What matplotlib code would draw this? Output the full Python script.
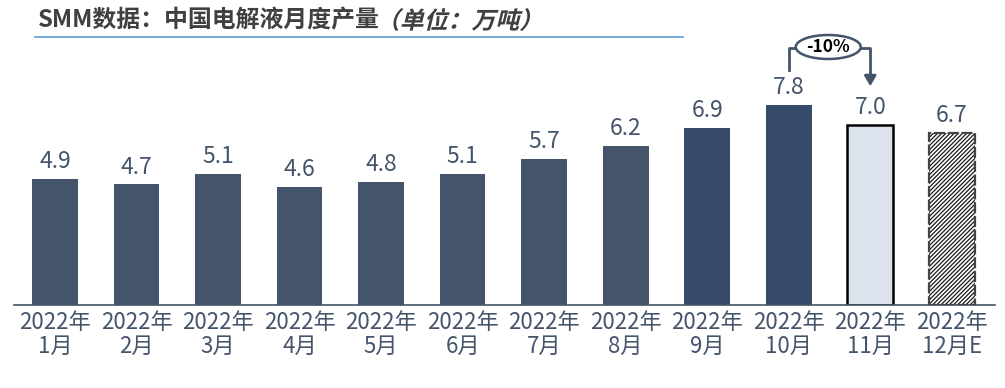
import matplotlib
matplotlib.use("Agg")
import matplotlib.pyplot as plt
from matplotlib.patches import Ellipse, PathPatch
from matplotlib.textpath import TextPath
from matplotlib.font_manager import FontProperties
from matplotlib.transforms import Affine2D

plt.rcParams['font.family'] = ['Noto Sans CJK SC', 'DejaVu Sans']
plt.rcParams['hatch.linewidth'] = 0.9

categories = ["2022年\n1月", "2022年\n2月", "2022年\n3月", "2022年\n4月", "2022年\n5月",
              "2022年\n6月", "2022年\n7月", "2022年\n8月", "2022年\n9月", "2022年\n10月",
              "2022年\n11月", "2022年\n12月E"]
values = [4.9, 4.7, 5.1, 4.6, 4.8, 5.1, 5.7, 6.2, 6.9, 7.8, 7.0, 6.7]
labels = ["4.9", "4.7", "5.1", "4.6", "4.8", "5.1", "5.7", "6.2", "6.9", "7.8", "7.0", "6.7"]
change_label = "-10%"
title_main = "SMM数据：中国电解液月度产量"
title_unit = "（单位：万吨）"

W, H = 1005, 388
fig = plt.figure(figsize=(W / 100, H / 100), dpi=100)
ax = fig.add_axes([14 / W, 1 - 305 / H, 981 / W, 265 / H])

text_color = "#44546A"
base_colors = ["#44546A"] * 8 + ["#364A6B", "#364A6B"]
x = list(range(len(values)))
bw = 0.56

for i, v in enumerate(values):
    if i < 10:
        ax.bar(i, v, width=bw, color=base_colors[i], edgecolor="none", zorder=2)
    elif i == 10:
        ax.bar(i, v, width=bw, color="#DCE3ED", edgecolor="black", linewidth=1.8, zorder=2)
    else:
        ax.bar(i, v, width=bw, color="white", edgecolor="#1a1a1a", hatch="////////",
               linewidth=0, zorder=2)
        ax.bar(i, v, width=bw, color="none", edgecolor="#444444", linewidth=1.6,
               linestyle=(0, (5, 1.2)), zorder=3)
    ax.text(i, v + 0.22, labels[i], ha="center", va="bottom", fontsize=16.5,
            color=text_color)

ax.set_xlim(-0.503, 11.53)
ax.set_ylim(0, 265 / 25.7)
ax.set_xticks(x)
ax.set_xticklabels(categories, fontsize=16, color=text_color, linespacing=1.05)
ax.tick_params(axis="x", length=0, pad=4)
ax.set_yticks([])
for s in ["top", "right", "left"]:
    ax.spines[s].set_visible(False)
ax.spines["bottom"].set_color(text_color)
ax.spines["bottom"].set_linewidth(1.2)

# annotation bracket (-10%)
def py(ypix):
    return (305 - ypix) / 25.7
def px(xpix):
    return (xpix - 55) / 81.5

lc = "#44546A"
ax.plot([9, 9, px(796)], [py(70), py(48), py(48)], color=lc, lw=2, clip_on=False, zorder=4)
ax.plot([px(860), 10, 10], [py(48), py(48), py(80)], color=lc, lw=2, clip_on=False, zorder=4)
ax.annotate("", xy=(10, py(89)), xytext=(10, py(76)),
            arrowprops=dict(arrowstyle="-|>,head_length=0.6,head_width=0.35", color=lc, lw=2),
            annotation_clip=False)
ell = Ellipse((px(828), py(47)), width=65 / 81.5, height=24 / 25.7, facecolor="white",
              edgecolor=lc, lw=1.8, clip_on=False, zorder=5)
ax.add_patch(ell)
ax.text(px(828), py(47.5), change_label, ha="center", va="center", fontsize=12.5,
        fontweight="bold", color="black", zorder=6)

# title
tsize = 17.2
t1 = fig.text(38 / W, 1 - 20 / H, title_main, ha="left", va="center", fontsize=tsize,
              fontweight="bold", color="#404040")
fig.canvas.draw()
bb = t1.get_window_extent()
fp = FontProperties(family="Noto Sans CJK SC", weight="bold")
size_px = tsize * 100 / 72
tp = TextPath((0, 0), title_unit, size=size_px, prop=fp)
baseline_y = H - 20 - size_px * 0.36
tr = Affine2D().skew_deg(14, 0).translate(bb.x1 - 4, baseline_y)
fig.add_artist(PathPatch(tp, transform=tr, facecolor="#404040", edgecolor="none"))
fig.add_artist(plt.Line2D([35 / W, 683 / W], [1 - 37 / H, 1 - 37 / H], color="#5B9BD5",
                          lw=1.2, transform=fig.transFigure))

fig.savefig("out.png", dpi=100)
